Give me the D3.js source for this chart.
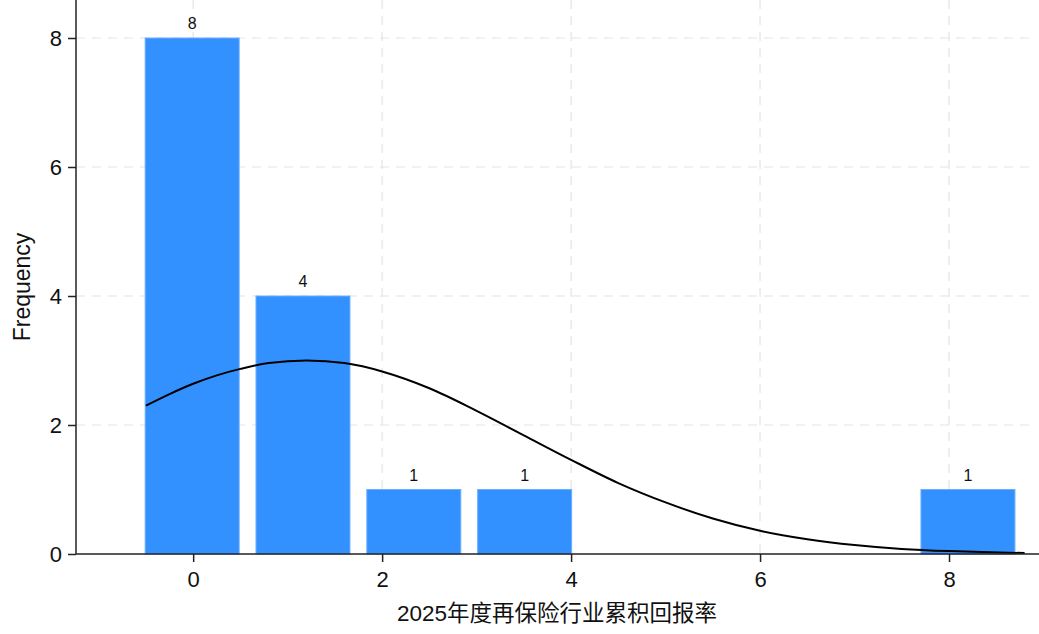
<!DOCTYPE html>
<html>
<head>
<meta charset="utf-8">
<script src="https://cdn.jsdelivr.net/npm/d3@7"></script>
<style>
body{margin:0;background:#fff;}
svg{display:block;font-family:"Liberation Sans",Arial,"Noto Sans CJK SC",sans-serif;}
</style>
</head>
<body>
<svg id="chart" width="1039" height="634"></svg>
<script>
// histogram bins (start of first bin, bin width) and counts
var binStart = -0.508;
var binWidth = 1.173;
var counts = [8, 4, 1, 1, 0, 0, 0, 1];
var xTicks = [0, 2, 4, 6, 8];
var yTicks = [0, 2, 4, 6, 8];
// normal density overlay
var curveX = [-0.5, -0.25, 0, 0.25, 0.5, 0.8, 1.2, 1.6, 2, 2.5, 3, 3.5, 4, 4.5, 5, 5.5, 6, 6.5, 7, 7.5, 8, 8.8];
var curveY = [2.3, 2.48, 2.64, 2.77, 2.87, 2.96, 3.0, 2.96, 2.83, 2.57, 2.22, 1.84, 1.46, 1.10, 0.80, 0.55, 0.36, 0.23, 0.14, 0.079, 0.045, 0.015];

var svg = d3.select("#chart");
var pLeft = 76, pRight = 1035, pTop = 38, pBottom = 554;

var x = d3.scaleLinear().domain([-1.24, 8.91]).range([pLeft, pRight]);
var y = d3.scaleLinear().domain([0, 8]).range([pBottom, pTop]);

// grid
svg.append("g").selectAll("line").data(yTicks.filter(function(d){return d>0;}))
  .enter().append("line")
  .attr("x1", pLeft).attr("x2", pRight)
  .attr("y1", function(d){return y(d);}).attr("y2", function(d){return y(d);})
  .attr("stroke", "#e4e4e4").attr("stroke-width", 1.2).attr("stroke-dasharray", "9,7");
svg.append("g").selectAll("line").data(xTicks)
  .enter().append("line")
  .attr("y1", 0).attr("y2", pBottom)
  .attr("x1", function(d){return x(d);}).attr("x2", function(d){return x(d);})
  .attr("stroke", "#e4e4e4").attr("stroke-width", 1.2).attr("stroke-dasharray", "9,7");

// bars (keep the bin index before dropping empty bins)
var bins = counts.map(function(c,i){return {n:c, x0:binStart + i*binWidth};})
  .filter(function(b){return b.n>0;});
var bars = svg.append("g").selectAll("g").data(bins).enter().append("g");
bars.append("rect")
  .attr("x", function(d){return x(d.x0);})
  .attr("width", function(d){return x(d.x0 + binWidth*0.848) - x(d.x0);})
  .attr("y", function(d){return y(d.n);})
  .attr("height", function(d){return y(0) - y(d.n);})
  .attr("fill", "#3391ff")
  .attr("stroke", "#6aaeff").attr("stroke-width", 1);
bars.append("text")
  .attr("x", function(d){return x(d.x0 + binWidth*0.424);})
  .attr("y", function(d){return y(d.n) - 9;})
  .attr("text-anchor", "middle")
  .attr("font-size", 16)
  .attr("fill", "#111")
  .text(function(d){return d.n;});

// normal curve
var pts = curveX.map(function(d,i){return [d, curveY[i]];});
svg.append("path")
  .datum(pts)
  .attr("fill", "none")
  .attr("stroke", "#000")
  .attr("stroke-width", 2)
  .attr("d", d3.line().x(function(d){return x(d[0]);}).y(function(d){return y(d[1]);}).curve(d3.curveCatmullRom));

// axes
var xAxis = svg.append("g").attr("transform", "translate(0," + pBottom + ")")
  .call(d3.axisBottom(x).tickValues(xTicks).tickSize(8).tickPadding(9).tickSizeOuter(0));
var yAxis = svg.append("g").attr("transform", "translate(" + pLeft + ",0)")
  .call(d3.axisLeft(y).tickValues(yTicks).tickSize(8).tickPadding(6).tickSizeOuter(0));
[xAxis, yAxis].forEach(function(a){
  a.select(".domain").attr("stroke", "#222").attr("stroke-width", 1.5);
  a.selectAll(".tick line").attr("stroke", "#222").attr("stroke-width", 1.5);
  a.selectAll(".tick text").attr("font-size", 22).attr("fill", "#111")
    .attr("font-family", "'Liberation Sans',Arial,sans-serif");
});
xAxis.select(".domain").attr("d", "M" + pLeft + ",0H1039");
yAxis.select(".domain").attr("d", "M0," + pBottom + "V0");

// titles
svg.append("text")
  .attr("x", 557).attr("y", 621)
  .attr("text-anchor", "middle")
  .attr("font-size", 22.5).attr("fill", "#111")
  .attr("font-family", "'Liberation Sans','Noto Sans CJK SC',sans-serif")
  .text("2025年度再保险行业累积回报率");
svg.append("text")
  .attr("transform", "translate(30,287) rotate(-90)")
  .attr("text-anchor", "middle")
  .attr("font-size", 23).attr("fill", "#111")
  .text("Frequency");
</script>
</body>
</html>
